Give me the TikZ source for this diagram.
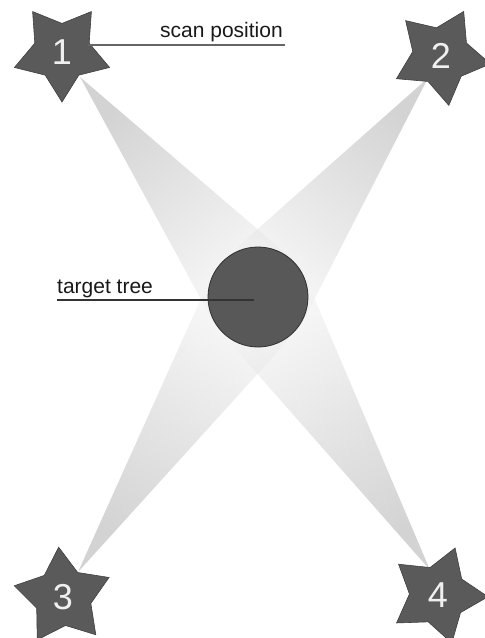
\documentclass[tikz,border=0pt]{standalone}
\usepackage{fontspec}
\setmainfont{Liberation Sans}
\usetikzlibrary{shapes.geometric,calc}
\definecolor{starfill}{HTML}{5A5A5A}
\definecolor{stardraw}{HTML}{404040}
\definecolor{treefill}{HTML}{585858}
\definecolor{treedraw}{HTML}{303030}
\begin{document}
\begin{tikzpicture}[x=1pt,y=-1pt,
  scanstar/.style={star, star points=5, star point ratio=1.75, minimum size=100pt,
    inner sep=0pt, fill=starfill, draw=stardraw, line width=0.6pt},
  numlabel/.style={font=\fontsize{36}{36}\selectfont, text=gray!12, inner sep=0pt},
  beam/.style={fill opacity=0.5, top color=black!34, bottom color=black!3},
  lbl/.style={font=\fontsize{21}{21}\selectfont, text=black!90, inner sep=0pt, anchor=base west},
  leader/.style={line width=1.1pt}
]
\useasboundingbox (0,0) rectangle (485,638);
\coordinate (T) at (258,297);
\coordinate (A1) at (80,77);
\coordinate (A2) at (428,78);
\coordinate (A3) at (78,572);
\coordinate (A4) at (430,570);
% beams
\shade[beam, shading angle=39] (A1) -- ($(T)!52pt!90:(A1)$) -- ($(T)!52pt!-90:(A1)$) -- cycle;
\shade[beam, shading angle=-38] (A2) -- ($(T)!52pt!90:(A2)$) -- ($(T)!52pt!-90:(A2)$) -- cycle;
\shade[beam, shading angle=147] (A3) -- ($(T)!52pt!90:(A3)$) -- ($(T)!52pt!-90:(A3)$) -- cycle;
\shade[beam, shading angle=-148] (A4) -- ($(T)!52pt!90:(A4)$) -- ($(T)!52pt!-90:(A4)$) -- cycle;
% tree
\node[circle, minimum size=100pt, inner sep=0pt, fill=treefill, draw=treedraw, line width=0.8pt] (tree) at (T) {};
% stars
\node[scanstar, shape border rotate=180] (s1) at (62,52) {};
\node[scanstar, shape border rotate=-27] (s2) at (441,56) {};
\node[scanstar, shape border rotate=5] (s3) at (63,597) {};
\node[scanstar, shape border rotate=-20] (s4) at (438,595) {};
\node[numlabel] at (s1) {1};
\node[numlabel] at (s2) {2};
\node[numlabel] at (s3) {3};
\node[numlabel] at (s4) {4};
% labels
\node[lbl] (scan) at (160,37) {scan position};
\coordinate (scanL) at (88,45);
\coordinate (scanR) at (285,45);
\draw[leader, draw=black!60] (scanL) -- (scanR);
\node[lbl] (tgt) at (57,293) {target tree};
\coordinate (tgtL) at (57,300);
\coordinate (tgtR) at (254,300);
\draw[leader, draw=black!80] (tgtL) -- (tgtR);
\end{tikzpicture}
\end{document}
